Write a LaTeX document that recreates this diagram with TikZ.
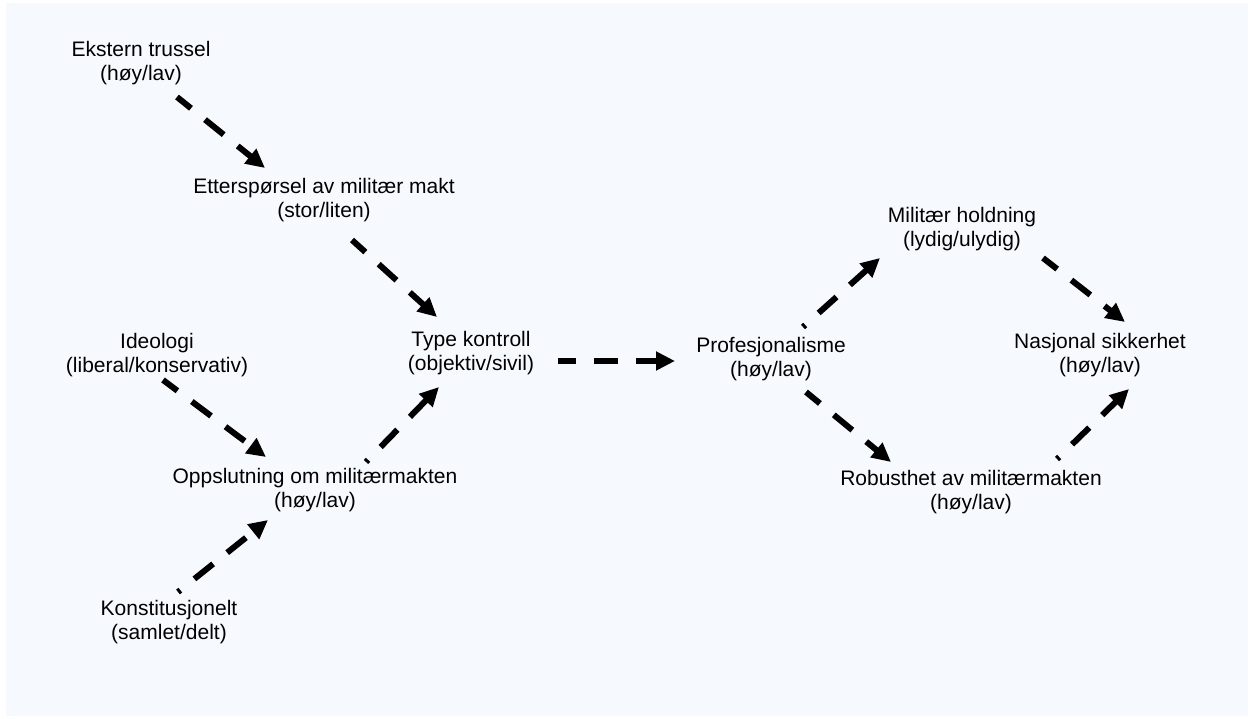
\documentclass[tikz,border=0pt]{standalone}
\usepackage{fontspec}
\setmainfont{Liberation Sans}
\usetikzlibrary{arrows.meta,calc}
\definecolor{bgblue}{RGB}{246,250,254}
\tikzset{
  lbl/.style={align=center,inner sep=0pt,font=\fontsize{21}{24}\selectfont},
  arr/.style={line width=6pt,dash pattern=on 24pt off 18pt,dash phase=6pt,
    -{Triangle[length=19pt,width=18pt]}},
  dotstart/.style={dash phase=21pt}
}
\begin{document}
\begin{tikzpicture}[x=1pt,y=-1pt]
\useasboundingbox (0,0) rectangle (1251,719);
\fill[bgblue] (6,3) rectangle (1248,716);
\node[lbl] (ek) at (141,63) {Ekstern trussel\\(høy/lav)};
\node[lbl] (et) at (324,200) {Etterspørsel av militær makt\\(stor/liten)};
\node[lbl] (id) at (157,355) {Ideologi\\(liberal/konservativ)};
\node[lbl] (ty) at (471,353) {Type kontroll\\(objektiv/sivil)};
\node[lbl] (op) at (315,490) {Oppslutning om militærmakten\\(høy/lav)};
\node[lbl] (ko) at (169,622) {Konstitusjonelt\\(samlet/delt)};
\node[lbl] (pr) at (771,359) {Profesjonalisme\\(høy/lav)};
\node[lbl] (mi) at (962,229) {Militær holdning\\(lydig/ulydig)};
\node[lbl] (na) at (1100,355) {Nasjonal sikkerhet\\(høy/lav)};
\node[lbl] (ro) at (971,492) {Robusthet av militærmakten\\(høy/lav)};
\draw[arr] ([shift={(36,34)}]ek.center) -- ([shift={(-59,-32)}]et.center);
\draw[arr] ([shift={(28,40)}]et.center) -- ([shift={(-34,-36)}]ty.center);
\draw[arr] ([shift={(6,25)}]id.center) -- ([shift={(-49,-33)}]op.center);
\draw[arr,dotstart] ([shift={(51,-28)}]op.center) -- ([shift={(-32,34)}]ty.center);
\draw[arr,dotstart] ([shift={(9,-30)}]ko.center) -- ([shift={(-47,30)}]op.center);
\draw[arr] ([shift={(87,8)}]ty.center) -- ([shift={(-96,2)}]pr.center);
\draw[arr,dotstart] ([shift={(32,-32)}]pr.center) -- ([shift={(-82,29)}]mi.center);
\draw[arr] ([shift={(35,33)}]pr.center) -- ([shift={(-80,-30)}]ro.center);
\draw[arr] ([shift={(81,29)}]mi.center) -- ([shift={(25,-33)}]na.center);
\draw[arr,dotstart] ([shift={(86,-33)}]ro.center) -- ([shift={(29,34)}]na.center);
\end{tikzpicture}
\end{document}
